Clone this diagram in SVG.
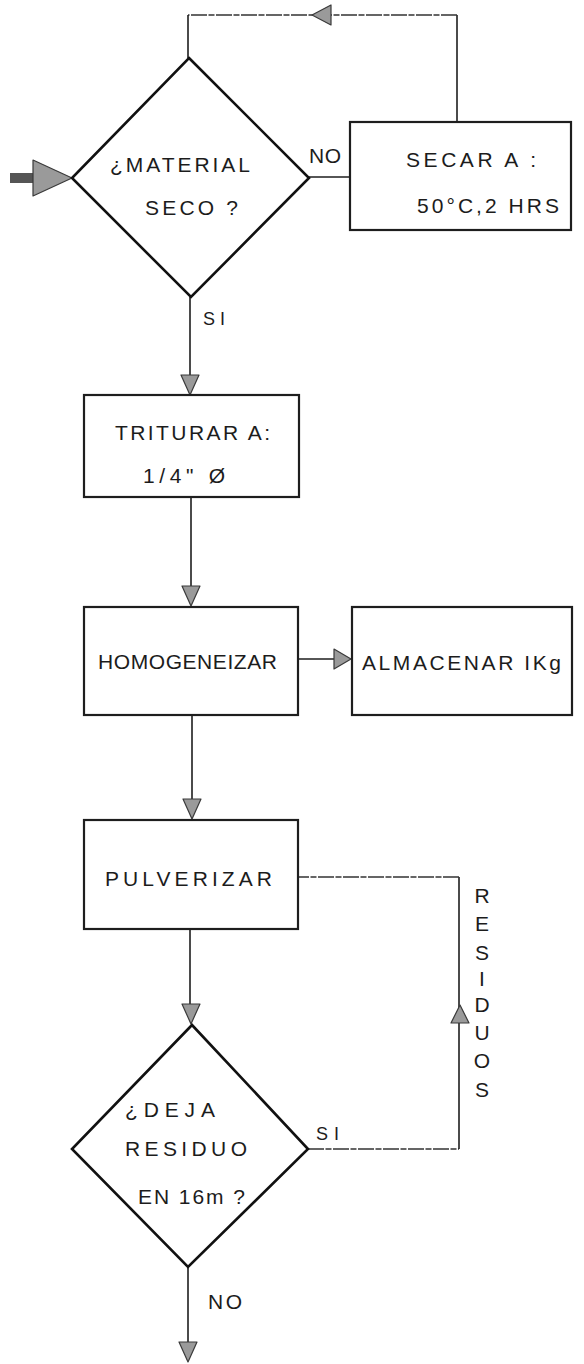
<svg xmlns="http://www.w3.org/2000/svg" xmlns:xlink="http://www.w3.org/1999/xlink" width="584" height="1364" viewBox="0 0 584 1364">
<style>
.bg{fill:#ffffff}
.box{fill:none;stroke:#1e1e1e;stroke-width:2.2}
.dia{fill:none;stroke:#111111;stroke-width:2.6;stroke-linejoin:miter}
.ln{fill:none;stroke:#1e1e1e;stroke-width:1.6}
.faint{fill:none;stroke:#333333;stroke-width:1.4;stroke-dasharray:16 1.5 6 1.5}
.ah{fill:#9a9a9a;stroke:#3a3a3a;stroke-width:1.2;stroke-linejoin:round}
.t{font-family:"Liberation Sans","DejaVu Sans",Arial,sans-serif;font-size:21px;fill:#1c1c1c}
.ts{font-family:"Liberation Sans","DejaVu Sans",Arial,sans-serif;font-size:18px;fill:#1c1c1c}
</style>
<defs>
<path id="ah" class="ah" d="M-9,-20 L9,-20 L0,0 Z"/>
</defs>
<rect class="bg" x="0" y="0" width="584" height="1364"/>

<g id="connectors">
  <!-- entry -->
  <rect x="10" y="173" width="23" height="10" fill="#555555"/>
  <polygon class="ah" points="33,160 72,178 33,196"/>
  <!-- D1 NO to SECAR -->
  <line class="ln" x1="309" y1="177" x2="350" y2="177"/>
  <!-- SECAR loop back -->
  <polyline class="ln" points="457,122 457,15"/>
  <polyline class="faint" points="457,15 188,15"/>
  <polyline class="ln" points="188,15 188,58"/>
  <polygon class="ah" points="312,15 331,5 331,25"/>
  <!-- D1 SI to TRITURAR -->
  <line class="ln" x1="190" y1="297" x2="190" y2="376"/>
  <use xlink:href="#ah" href="#ah" transform="translate(190,395)"/>
  <!-- TRITURAR to HOMOGENEIZAR -->
  <line class="ln" x1="191" y1="497" x2="191" y2="588"/>
  <use xlink:href="#ah" href="#ah" transform="translate(191,606)"/>
  <!-- HOMOGENEIZAR to ALMACENAR -->
  <line class="ln" x1="298" y1="659" x2="336" y2="659"/>
  <polygon class="ah" points="334,649 351,659 334,669"/>
  <!-- HOMOGENEIZAR to PULVERIZAR -->
  <line class="ln" x1="192" y1="715" x2="192" y2="801"/>
  <use xlink:href="#ah" href="#ah" transform="translate(192,819)"/>
  <!-- PULVERIZAR to D2 -->
  <line class="ln" x1="190" y1="929" x2="190" y2="1006"/>
  <use xlink:href="#ah" href="#ah" transform="translate(191,1024)"/>
  <!-- D2 SI residuos loop -->
  <polyline class="faint" points="308,1149 459,1149"/>
  <polyline class="ln" points="459,1149 459,877"/>
  <polyline class="faint" points="459,877 298,877"/>
  <polygon class="ah" points="460,1005 469,1023 451,1023"/>
  <!-- D2 NO exit -->
  <line class="ln" x1="188" y1="1267" x2="188" y2="1344"/>
  <use xlink:href="#ah" href="#ah" transform="translate(188,1362)"/>
  <!-- labels -->
  <text class="t" x="309" y="163" textLength="32" lengthAdjust="spacing">NO</text>
  <text class="ts" x="203" y="325" textLength="22" lengthAdjust="spacing">SI</text>
  <text class="ts" x="316" y="1140" textLength="23" lengthAdjust="spacing">SI</text>
  <text class="t" x="208" y="1309" textLength="34" lengthAdjust="spacing">NO</text>
  <g id="residuos-label" class="t" text-anchor="middle">
    <text x="482" y="903">R</text>
    <text x="482" y="931">E</text>
    <text x="482" y="960">S</text>
    <text x="482" y="986">I</text>
    <text x="482" y="1012">D</text>
    <text x="482" y="1040">U</text>
    <text x="482" y="1068">O</text>
    <text x="482" y="1097">S</text>
  </g>
</g>

<g id="node-material-seco">
  <polygon class="dia" points="189,58 309,178 191,297 72,178"/>
  <text class="t" x="110" y="172" textLength="140" lengthAdjust="spacing">¿MATERIAL</text>
  <text class="t" x="145" y="215" textLength="93" lengthAdjust="spacing">SECO ?</text>
</g>

<g id="node-secar">
  <rect class="box" x="350" y="122" width="221" height="108"/>
  <text class="t" x="406" y="167" textLength="130" lengthAdjust="spacing">SECAR A :</text>
  <text class="t" x="417" y="213" textLength="142" lengthAdjust="spacing">50°C,2 HRS</text>
</g>

<g id="node-triturar">
  <rect class="box" x="84" y="395" width="215" height="102"/>
  <text class="t" x="115" y="440" textLength="155" lengthAdjust="spacing">TRITURAR A:</text>
  <text class="t" x="143" y="483" textLength="82" lengthAdjust="spacing">1/4"  Ø</text>
</g>

<g id="node-homogeneizar">
  <rect class="box" x="84" y="607" width="214" height="108"/>
  <text class="t" x="98" y="669" textLength="179" lengthAdjust="spacing">HOMOGENEIZAR</text>
</g>

<g id="node-almacenar">
  <rect class="box" x="352" y="607" width="220" height="108"/>
  <text class="t" x="362" y="670" textLength="199" lengthAdjust="spacing">ALMACENAR IKg</text>
</g>

<g id="node-pulverizar">
  <rect class="box" x="84" y="820" width="214" height="109"/>
  <text class="t" x="105" y="886" textLength="167" lengthAdjust="spacing">PULVERIZAR</text>
</g>

<g id="node-deja-residuo">
  <polygon class="dia" points="192,1025 308,1149 188,1267 72,1149"/>
  <text class="t" x="125" y="1117" textLength="90" lengthAdjust="spacing">¿DEJA</text>
  <text class="t" x="125" y="1156" textLength="122" lengthAdjust="spacing">RESIDUO</text>
  <text class="t" x="138" y="1204" textLength="107" lengthAdjust="spacing">EN 16m ?</text>
</g>
</svg>
